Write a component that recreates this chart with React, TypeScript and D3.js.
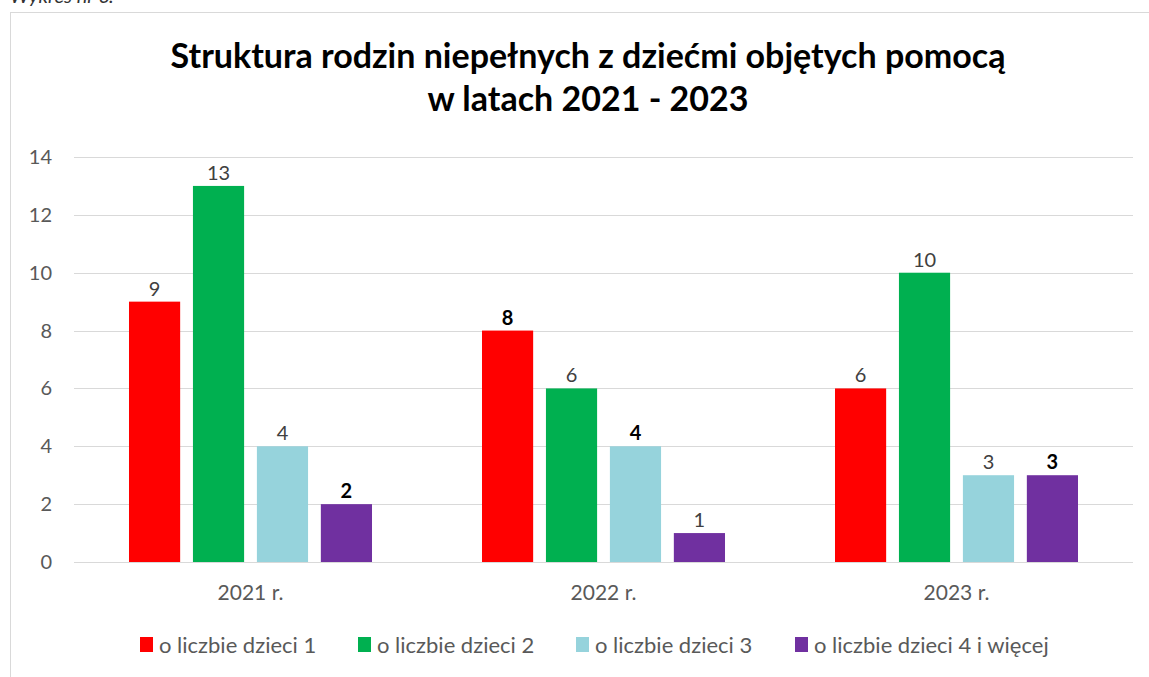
import React from "react";
import * as d3 from "d3";

const years = ["2021 r.", "2022 r.", "2023 r."];
const seriesNames = [
  "o liczbie dzieci 1",
  "o liczbie dzieci 2",
  "o liczbie dzieci 3",
  "o liczbie dzieci 4 i więcej",
];
const seriesColors = ["#FF0000", "#00B050", "#96D3DC", "#7030A0"];
// values per year, one per series
const values2021 = [9, 13, 4, 2];
const values2022 = [8, 6, 4, 1];
const values2023 = [6, 10, 3, 3];
// which data labels are bold in the original
const bold2021 = [false, false, false, true];
const bold2022 = [true, false, true, false];
const bold2023 = [false, false, false, true];
const yTicks = [0, 2, 4, 6, 8, 10, 12, 14];

const allValues = [values2021, values2022, values2023];
const allBold = [bold2021, bold2022, bold2023];

const W = 1149;
const H = 677;
const FONT = "Lato, 'Open Sans', sans-serif";

const App = () => {
  const plot = { left: 74, right: 1133, top: 157, bottom: 562 };

  const x0 = d3.scaleBand().domain(years).range([plot.left, plot.right]).padding(0);
  const x1 = d3
    .scaleBand()
    .domain(seriesNames)
    .range([0, x0.bandwidth()])
    .paddingInner(0.2)
    .paddingOuter(0.86);
  const y = d3.scaleLinear().domain([0, 14]).range([plot.bottom, plot.top]);

  // legend positions (square x)
  const legendX = [140, 358, 576, 795];

  return (
    <svg
      width={W}
      height={H}
      style={{ position: "absolute", left: 0, top: 0, background: "#fff" }}
      fontFamily={FONT}
    >
      <rect x={0} y={0} width={W} height={H} fill="#fff" />
      <text x={10} y={3} fontSize={20} fontStyle="italic" fill="#333">
        Wykres nr 6.
      </text>
      <rect x={10.5} y={12.5} width={1300} height={800} fill="#fff" stroke="#d9d9d9" />

      <g fontWeight="bold" fontSize={34} fill="#000" textAnchor="middle">
        <text x={588} y={68}>Struktura rodzin niepełnych z dziećmi objętych pomocą</text>
        <text x={588} y={111}>w latach 2021 - 2023</text>
      </g>

      {yTicks.map((t) => (
        <g key={t}>
          <line
            x1={plot.left}
            x2={plot.right}
            y1={Math.round(y(t)) + 0.5}
            y2={Math.round(y(t)) + 0.5}
            stroke="#d9d9d9"
            strokeWidth={1}
          />
          <text
            x={52}
            y={y(t)}
            dy="0.35em"
            textAnchor="end"
            fontSize={20}
            fill="#595959"
          >
            {t}
          </text>
        </g>
      ))}

      {years.map((yr, i) => (
        <g key={yr} transform={`translate(${x0(yr)},0)`}>
          {seriesNames.map((s, j) => {
            const v = allValues[i][j];
            const b = allBold[i][j];
            return (
              <g key={s}>
                <rect
                  x={x1(s)}
                  y={y(v)}
                  width={x1.bandwidth()}
                  height={y(0) - y(v)}
                  fill={seriesColors[j]}
                />
                <text
                  x={(x1(s) as number) + x1.bandwidth() / 2}
                  y={y(v) - 6}
                  textAnchor="middle"
                  fontSize={20}
                  fontWeight={b ? "bold" : "normal"}
                  fill={b ? "#000" : "#404040"}
                >
                  {v}
                </text>
              </g>
            );
          })}
          <text
            x={x0.bandwidth() / 2}
            y={593}
            dy="0.35em"
            textAnchor="middle"
            fontSize={21}
            fill="#595959"
          >
            {yr}
          </text>
        </g>
      ))}

      {seriesNames.map((s, j) => (
        <g key={s}>
          <rect x={legendX[j]} y={637} width={13} height={15} fill={seriesColors[j]} />
          <text x={legendX[j] + 19} y={645} dy="0.35em" fontSize={22} fill="#595959">
            {s}
          </text>
        </g>
      ))}
    </svg>
  );
};

export default App;
